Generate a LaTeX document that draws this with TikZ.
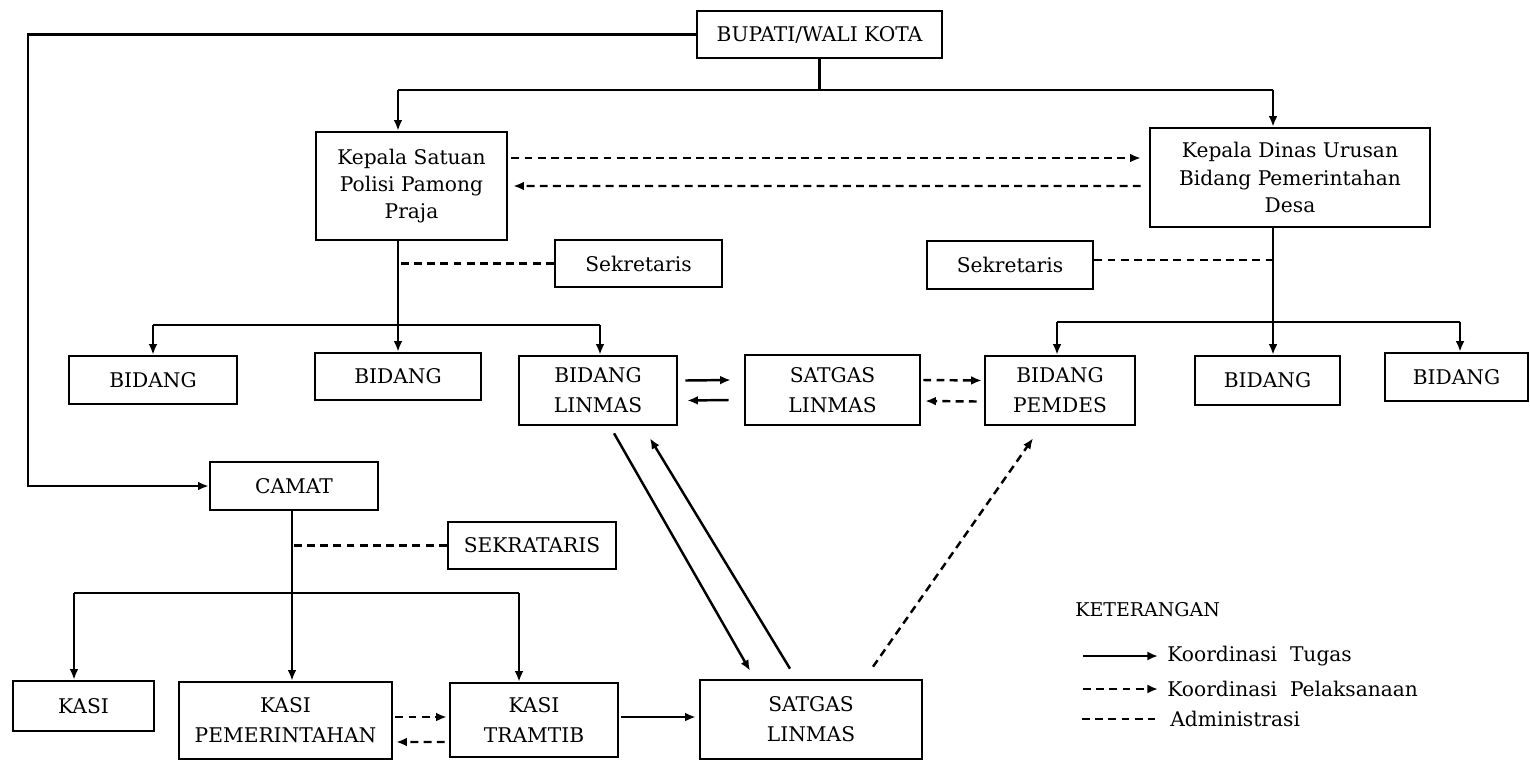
\documentclass[tikz,border=0pt]{standalone}
\usepackage{fontspec}
\setmainfont{DejaVu Serif}
\usetikzlibrary{arrows.meta,calc}
\begin{document}
\begin{tikzpicture}[x=0.02cm,y=-0.02cm,
  every node/.style={font=\fontsize{11.5}{15.5}\selectfont},
  box/.style={draw,line width=1.5pt,align=center,inner sep=0pt},
  ln/.style={line width=1.4pt},
  arr/.style={line width=1.4pt,-{Latex[length=6pt,width=5pt]}},
  darr/.style={line width=1.4pt,dash pattern=on 4.5pt off 3pt,-{Latex[length=6pt,width=5pt]}},
  adm/.style={line width=1.4pt,dash pattern=on 4.5pt off 3pt},
  lgtext/.style={anchor=west,inner sep=0pt}]
\useasboundingbox (0,0) rectangle (1530,761);
\newcommand\bx[6]{\node[box,minimum width={(#4-#2)*0.02cm},minimum height={(#5-#3)*0.02cm}] (#1) at ({(#2+#4)/2},{(#3+#5)/2}) {#6};}
% boxes
\bx{bup}{697}{11}{942}{58}{BUPATI/WALI KOTA}
\bx{kps}{316}{132}{507}{240}{Kepala Satuan\\Polisi Pamong\\Praja}
\bx{kd}{1150}{128}{1430}{227}{Kepala Dinas Urusan\\Bidang Pemerintahan\\Desa}
\bx{sek1}{555}{240}{722}{287}{Sekretaris}
\bx{sek2}{927}{241}{1093}{289}{Sekretaris}
\bx{b1}{69}{356}{237}{404}{BIDANG}
\bx{b2}{315}{353}{481}{400}{BIDANG}
\node[box,minimum width={(677-519)*0.02cm},minimum height={(425-356)*0.02cm},font=\fontsize{11.5}{17}\selectfont] (bl) at (598,390.5) {BIDANG\\LINMAS};
\node[box,minimum width={(920-745)*0.02cm},minimum height={(425-355)*0.02cm},font=\fontsize{11.5}{17}\selectfont] (sl) at (832.5,390) {SATGAS\\LINMAS};
\node[box,minimum width={(1135-985)*0.02cm},minimum height={(425-356)*0.02cm},font=\fontsize{11.5}{17}\selectfont] (bp) at (1060,390.5) {BIDANG\\PEMDES};
\bx{b3}{1195}{356}{1340}{405}{BIDANG}
\bx{b4}{1385}{353}{1528}{401}{BIDANG}
\bx{camat}{210}{462}{378}{510}{CAMAT}
\bx{sekr}{448}{522}{616}{569}{SEKRATARIS}
\bx{kasi}{13}{681}{154}{731}{KASI}
\node[box,minimum width={(392-179)*0.02cm},minimum height={(759-682)*0.02cm},font=\fontsize{11.5}{17}\selectfont] (kpem) at (285.5,720.5) {KASI\\PEMERINTAHAN};
\node[box,minimum width={(618-450)*0.02cm},minimum height={(757-683)*0.02cm},font=\fontsize{11.5}{17}\selectfont] (ktr) at (534,720) {KASI\\TRAMTIB};
\node[box,minimum width={(922-700)*0.02cm},minimum height={(759-680)*0.02cm},font=\fontsize{11.5}{17}\selectfont] (sl2) at (811,719.5) {SATGAS\\LINMAS};
% junction coordinates
\coordinate (L) at (28,37);
\coordinate (t1) at (398,90);
\coordinate (t2) at (1273,90);
\coordinate (h1) at (153,325);
\coordinate (h2) at (600,325);
\coordinate (h3) at (1057,322);
\coordinate (h4) at (1460,322);
\coordinate (c0) at (292,593);
\coordinate (c1) at (74,593);
\coordinate (c2) at (519,593);
% top links
\draw[arr] (bup.west) -- (bup.west -| L) |- (camat.west);
\draw[ln] (bup.south) -- (bup.south |- t1);
\draw[ln] (t1) -- (t2);
\draw[arr] (t1) -- (t1 |- kps.north);
\draw[arr] (t2) -- (t2 |- kd.north);
\draw[darr] ($(kps.east)+(3,-28)$) -- ($(kd.west)+(-8,-19.5)$);
\draw[darr] ($(kd.west)+(-8,8.5)$) -- ($(kps.east)+(5,0)$);
% Satpol PP tree
\draw[arr] (t1 |- kps.south) -- (b2.north);
\draw[adm] (sek1.west) -- (sek1.west -| t1);
\draw[ln] (h1) -- (h2);
\draw[arr] (h1) -- (h1 |- b1.north);
\draw[arr] (h2) -- (h2 |- bl.north);
% Dinas tree
\draw[arr] (t2 |- kd.south) -- (t2 |- b3.north);
\draw[adm] ($(sek2.east)+(0,-5)$) -- ($(sek2.east -| t2)+(0,-5)$);
\draw[ln] (h3) -- (h4);
\draw[arr] (h3) -- (h3 |- bp.north);
\draw[arr] (h4) -- (h4 |- b4.north);
% middle links
\draw[arr] ($(bl.east)+(7,-10)$) -- ($(sl.west)+(-13,-10)$);
\draw[arr] ($(sl.west)+(-15,10)$) -- ($(bl.east)+(9,10)$);
\draw[darr] ($(sl.east)+(2,-10)$) -- ($(bp.west)+(-2,-10)$);
\draw[darr] ($(bp.west)+(-7,11)$) -- ($(sl.east)+(4,11)$);
% diagonals
\draw[arr] ($(bl.south)+(16,7)$) -- ($(sl2.north)+(-61,-8)$);
\draw[arr] ($(sl2.north)+(-21,-10)$) -- ($(bl.south)+(52,12)$);
\draw[darr] ($(sl2.north)+(62,-12)$) -- ($(bp.south)+(-27,12)$);
% camat tree
\draw[arr] (camat.south -| c0) -- (c0 |- kpem.north);
\draw[adm] (sekr.west) -- (sekr.west -| c0);
\draw[ln] (c1) -- (c2);
\draw[arr] (c1) -- (c1 |- kasi.north);
\draw[arr] (c2) -- (c2 |- ktr.north);
\draw[darr] ($(kpem.east)+(2,-3.5)$) -- ($(ktr.west)+(-2,-3)$);
\draw[darr] ($(ktr.west)+(-4,22)$) -- ($(kpem.east)+(3,21.5)$);
\draw[arr] ($(ktr.east)+(2,-3)$) -- ($(sl2.west)+(-3,-2.5)$);
% legend
\node[lgtext,font=\fontsize{10.8}{13}\selectfont] (ket) at (1075,610) {KETERANGAN};
\coordinate (la1) at (1083,656); \coordinate (lb1) at (1158,656);
\coordinate (la2) at (1083,689); \coordinate (lb2) at (1158,689);
\coordinate (la3) at (1082,719); \coordinate (lb3) at (1155,719);
\draw[arr] (la1) -- (lb1);
\draw[darr] (la2) -- (lb2);
\draw[adm] (la3) -- (lb3);
\node[lgtext] (lt1) at (1167,656) {Koordinasi\ \ Tugas};
\node[lgtext] (lt2) at (1167,689) {Koordinasi\ \ Pelaksanaan};
\node[lgtext] (lt3) at (1170,719) {Administrasi};
\end{tikzpicture}
\end{document}
